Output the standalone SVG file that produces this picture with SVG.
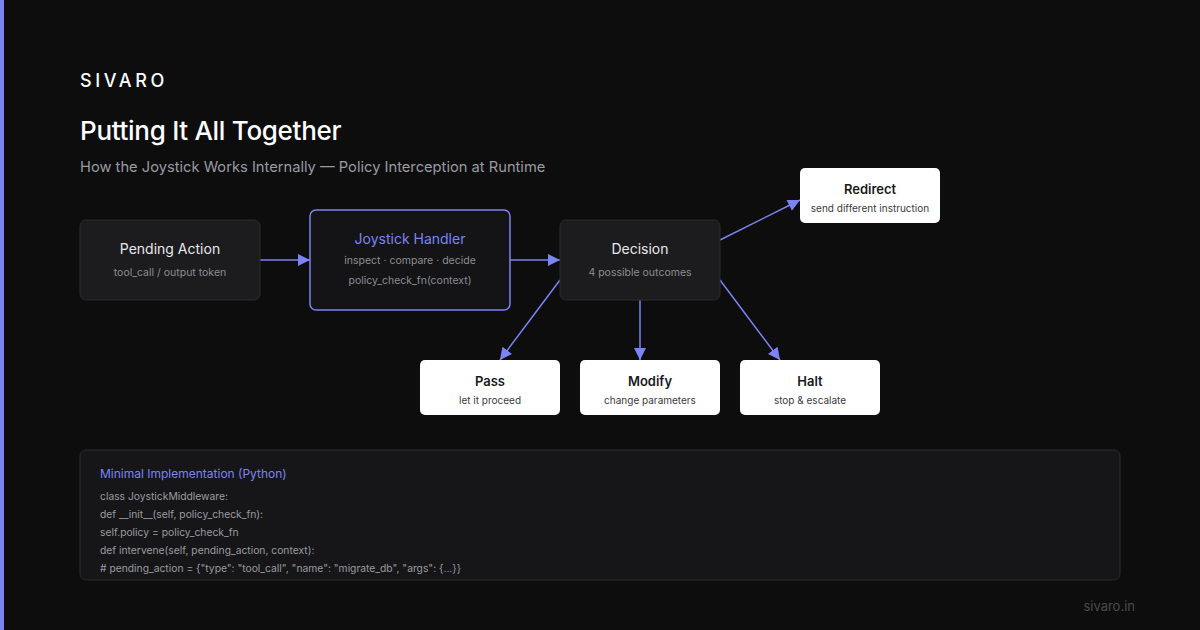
<svg xmlns="http://www.w3.org/2000/svg" width="1200" height="630" viewBox="0 0 1200 630">
<defs>
<marker id="ah" viewBox="0 0 10 10" refX="10" refY="5" markerWidth="18" markerHeight="12" markerUnits="userSpaceOnUse" orient="auto">
<path d="M0,0 L10,5 L0,10 z" fill="#7c83f5"/>
</marker>
<style>
text{font-family:Inter,"Noto Sans","Liberation Sans",sans-serif}
.dark{fill:#1c1c1f;stroke:#2c2c30;stroke-width:1}
.light{fill:#ffffff}
.t{font-size:14px;fill:#e8e8ea;text-anchor:middle}
.s{font-size:10.5px;fill:#8c8c92;text-anchor:middle}
.lt{font-size:13px;font-weight:600;fill:#1a1a1c;text-anchor:middle}
.ls{font-size:10px;fill:#3a3a3e;text-anchor:middle}
.code{font-size:10.3px;fill:#9a9aa0}
.c{stroke:#7c83f5;stroke-width:1.5;fill:none;marker-end:url(#ah)}
</style>
</defs>
<rect width="1200" height="630" fill="#0d0d0e"/>
<rect x="0" y="0" width="4" height="630" fill="#7c83f5"/>
<text x="80" y="87" font-size="18" font-weight="500" fill="#ffffff" letter-spacing="3.6">SIVARO</text>
<text x="80" y="140" font-size="26" font-weight="500" fill="#ffffff" letter-spacing="-0.3">Putting It All Together</text>
<text x="80" y="172" font-size="14.7" fill="#9a9aa0">How the Joystick Works Internally — Policy Interception at Runtime</text>

<g id="connectors">
<line class="c" x1="260" y1="260" x2="310" y2="260"/>
<line class="c" x1="510" y1="260" x2="560" y2="260"/>
<line class="c" x1="720" y1="240" x2="800" y2="200"/>
<line class="c" x1="560" y1="280" x2="500" y2="360"/>
<line class="c" x1="640" y1="300" x2="640" y2="360"/>
<line class="c" x1="720" y1="280" x2="780" y2="360"/>
</g>

<g id="pending">
<rect class="dark" x="80" y="220" width="180" height="80" rx="6"/>
<text class="t" x="170" y="254">Pending Action</text>
<text class="s" x="170" y="276">tool_call / output token</text>
</g>
<g id="handler">
<rect x="310" y="210" width="200" height="100" rx="6" fill="#141417" stroke="#7c83f5" stroke-width="1.5"/>
<text class="t" x="410" y="244" style="fill:#7c83f5">Joystick Handler</text>
<text class="s" x="410" y="264">inspect · compare · decide</text>
<text class="s" x="410" y="284">policy_check_fn(context)</text>
</g>
<g id="decision">
<rect class="dark" x="560" y="220" width="160" height="80" rx="6"/>
<text class="t" x="640" y="254">Decision</text>
<text class="s" x="640" y="276">4 possible outcomes</text>
</g>
<g id="redirect">
<rect class="light" x="800" y="168" width="140" height="55" rx="5"/>
<text class="lt" x="870" y="194">Redirect</text>
<text class="ls" x="870" y="212">send different instruction</text>
</g>
<g id="pass">
<rect class="light" x="420" y="360" width="140" height="55" rx="5"/>
<text class="lt" x="490" y="386">Pass</text>
<text class="ls" x="490" y="404">let it proceed</text>
</g>
<g id="modify">
<rect class="light" x="580" y="360" width="140" height="55" rx="5"/>
<text class="lt" x="650" y="386">Modify</text>
<text class="ls" x="650" y="404">change parameters</text>
</g>
<g id="halt">
<rect class="light" x="740" y="360" width="140" height="55" rx="5"/>
<text class="lt" x="810" y="386">Halt</text>
<text class="ls" x="810" y="404">stop &amp; escalate</text>
</g>

<g id="code">
<rect x="80" y="450" width="1040" height="130" rx="6" fill="#161618" stroke="#2c2c30" stroke-width="1"/>
<text x="100" y="478" font-size="12" fill="#7c83f5">Minimal Implementation (Python)</text>
<text class="code" x="100" y="500">class JoystickMiddleware:</text>
<text class="code" x="100" y="518">def __init__(self, policy_check_fn):</text>
<text class="code" x="100" y="536">self.policy = policy_check_fn</text>
<text class="code" x="100" y="554">def intervene(self, pending_action, context):</text>
<text class="code" x="100" y="572"># pending_action = {"type": "tool_call", "name": "migrate_db", "args": {...}}</text>
</g>
<text x="1135" y="611" font-size="13" fill="#4a4a50" text-anchor="end">sivaro.in</text>
</svg>
